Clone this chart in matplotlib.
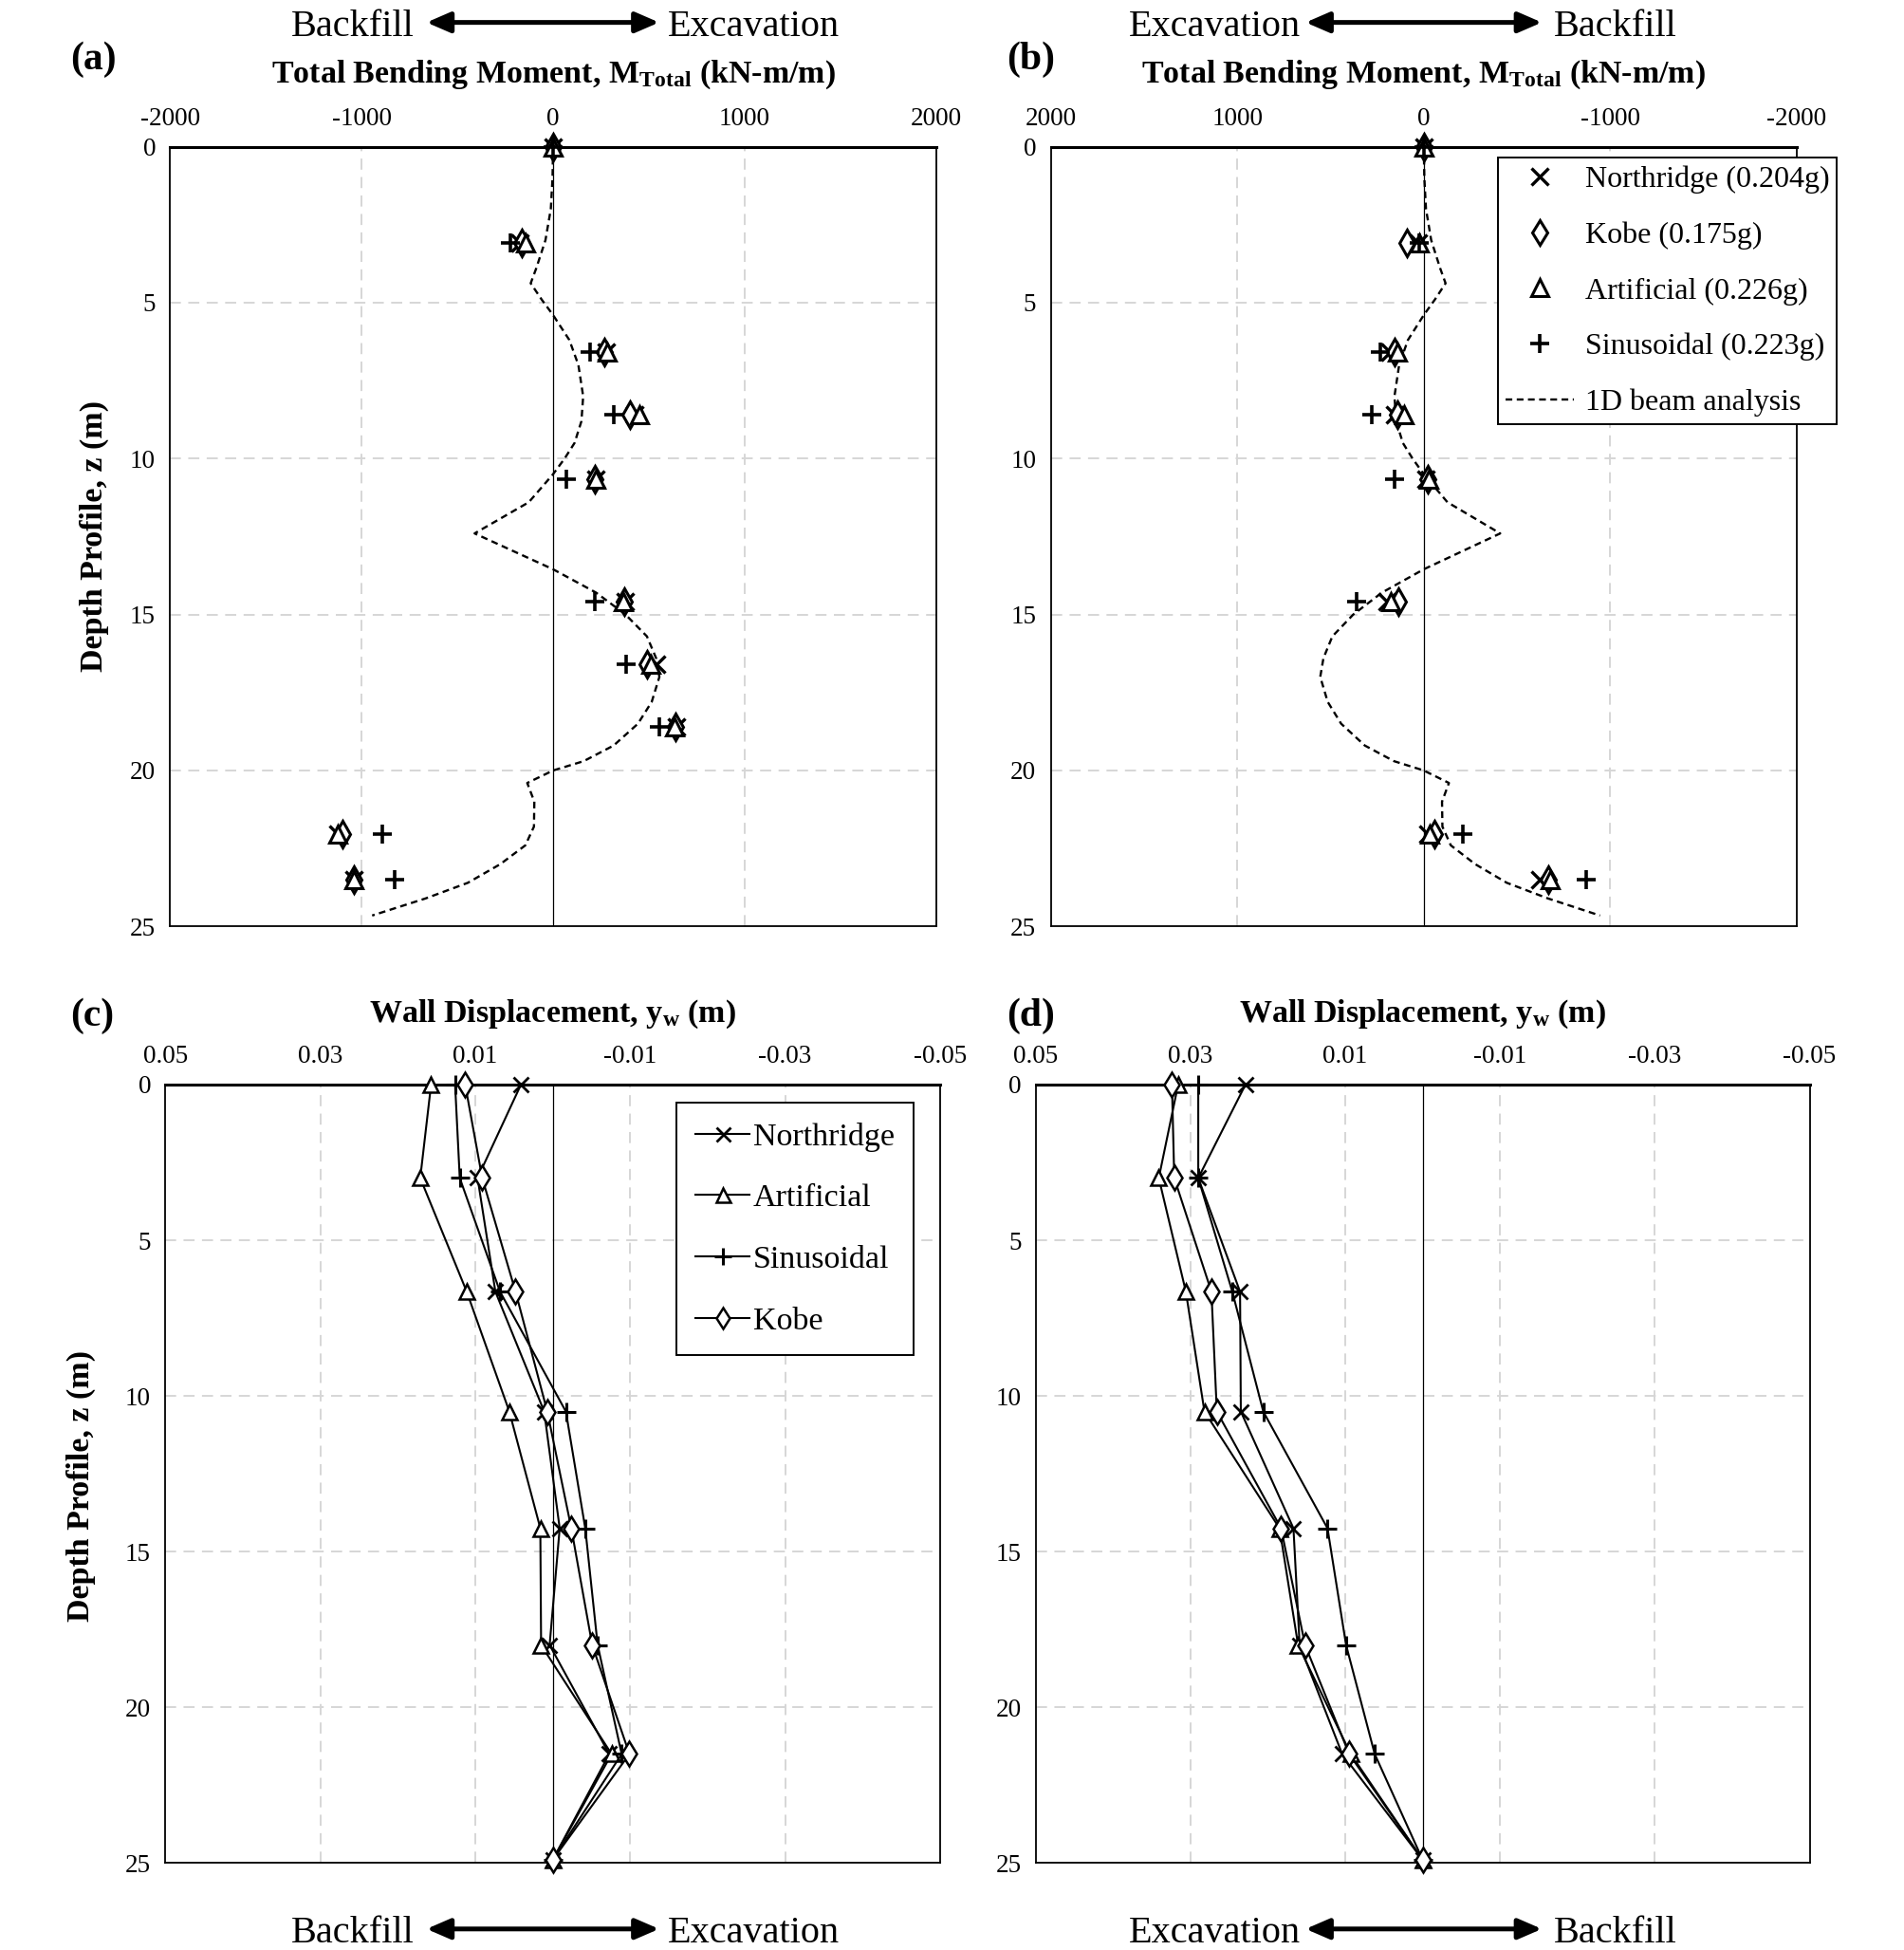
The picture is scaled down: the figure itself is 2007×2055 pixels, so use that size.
"""Bending moment and wall displacement profiles, panels (a)-(d)."""

import matplotlib

matplotlib.use("Agg")
import matplotlib.pyplot as plt
from matplotlib.lines import Line2D
from matplotlib.patches import FancyArrowPatch

plt.rcParams["font.family"] = ["Liberation Serif", "DejaVu Serif"]
plt.rcParams["mathtext.fontset"] = "custom"
plt.rcParams["mathtext.rm"] = "Liberation Serif"
plt.rcParams["mathtext.bf"] = "Liberation Serif:bold"
plt.rcParams["mathtext.it"] = "Liberation Serif:italic"

# ---- (a) total bending moment, kN-m/m
depth_a = [0.0, 3.1, 6.6, 8.6, 10.65, 14.6, 16.6, 18.6, 22.05, 23.5]
northridge_a = [0, -172, 276, 425, 225, 375, 540, 645, -1125, -1040]
kobe_a = [0, -162, 268, 400, 220, 370, 490, 640, -1100, -1040]
artificial_a = [0, -146, 284, 449, 225, 365, 510, 635, -1125, -1040]
sinusoidal_a = [0, -221, 193, 317, 70, 220, 380, 555, -890, -825]

# ---- (b) total bending moment, kN-m/m
depth_b = [0.0, 3.1, 6.6, 8.6, 10.65, 14.6, 22.05, 23.5]
northridge_b = [0, 30, 183, 157, -10, 195, -20, -620]
kobe_b = [0, 90, 157, 140, -20, 135, -55, -670]
artificial_b = [0, 22, 141, 107, -25, 175, -30, -680]
sinusoidal_b = [0, 22, 234, 279, 157, 360, -210, -870]

# ---- 1D beam analysis (same curve in both moment panels)
beam_depth = [0.0, 1.0, 2.0, 3.0, 3.9, 4.38, 4.9, 5.4, 6.2, 7.0, 8.0, 8.8, 9.5,
              10.0, 10.5, 11.4, 12.4, 13.55, 14.3, 15.0, 15.7, 16.4, 17.0, 17.8,
              18.5, 19.2, 19.7, 20.0, 20.4, 21.0, 21.8, 22.4, 23.0, 23.6, 24.1, 24.65]
beam_moment = [0, -3, -12, -40, -88, -117, -60, 0, 85, 132, 157, 148, 112,
               60, 0, -127, -410, 0, 225, 378, 490, 538, 555, 515,
               443, 316, 160, 0, -135, -98, -100, -145, -275, -445, -665, -945]

# ---- (c), (d) wall displacement, m
depth_disp = [0.0, 3.0, 6.65, 10.5, 14.25, 18.0, 21.5, 24.9]
northridge_c = [0.0041, 0.0097, 0.0074, 0.0011, -0.0009, 0.0004, -0.0073, 0.0]
artificial_c = [0.0157, 0.0171, 0.0111, 0.0056, 0.0016, 0.0015, -0.0076, 0.0]
sinusoidal_c = [0.0126, 0.0120, 0.0068, -0.0017, -0.0042, -0.0058, -0.0089, 0.0]
kobe_c = [0.0113, 0.0091, 0.0048, 0.0007, -0.0024, -0.0051, -0.0099, 0.0]

northridge_d = [0.0229, 0.0290, 0.0236, 0.0235, 0.0167, 0.0159, 0.0104, 0.0]
artificial_d = [0.0316, 0.0341, 0.0306, 0.0282, 0.0185, 0.0161, 0.0093, 0.0]
sinusoidal_d = [0.0290, 0.0290, 0.0246, 0.0206, 0.0123, 0.0099, 0.0062, 0.0]
kobe_d = [0.0324, 0.0321, 0.0273, 0.0266, 0.0183, 0.0152, 0.0095, 0.0]

moment_ticks = [-2000, -1000, 0, 1000, 2000]
moment_labels = ["-2000", "-1000", "0", "1000", "2000"]
disp_ticks = [0.05, 0.03, 0.01, -0.01, -0.03, -0.05]
disp_labels = ["0.05", "0.03", "0.01", "-0.01", "-0.03", "-0.05"]
depth_ticks = [0, 5, 10, 15, 20, 25]

GRID = "#d6d6d6"
TICK_FS = 19.5
TITLE_FS = 24.5

# marker styles: (marker, size, edge width, face)
MK = {
    "Northridge": ("x", 13, 2.4, "k"),
    "Kobe": ("d", 14, 2.2, "white"),
    "Artificial": ("^", 13, 2.2, "white"),
    "Sinusoidal": ("+", 15, 2.6, "k"),
}


def style_axes(ax, xlim, ticks, labels, grid_x):
    ax.set_xlim(*xlim)
    ax.set_ylim(25, 0)
    ax.xaxis.tick_top()
    ax.set_xticks(ticks)
    ax.set_xticklabels(labels)
    ax.set_yticks(depth_ticks)
    ax.tick_params(axis="x", length=0, labelsize=TICK_FS, pad=12)
    ax.tick_params(axis="y", length=0, labelsize=TICK_FS, pad=11)
    for v in grid_x:
        ax.axvline(v, color=GRID, lw=1.4, ls=(0, (6, 4)), zorder=0)
    for d in (5, 10, 15, 20):
        ax.axhline(d, color=GRID, lw=1.4, ls=(0, (6, 4)), zorder=0)
    ax.axvline(0, color="k", lw=0.9, zorder=1)
    for side in ("left", "right", "bottom"):
        ax.spines[side].set_linewidth(1.3)
    ax.spines["top"].set_linewidth(2.2)


def moment_panel(ax, depth, series, xlim):
    style_axes(ax, xlim, moment_ticks, moment_labels, [-1000, 1000])
    ax.plot(beam_moment, beam_depth, color="k", lw=1.7, ls=(0, (3, 2)), zorder=2)
    handles = []
    for name, vals in series:
        m, ms, mew, fc = MK[name]
        h, = ax.plot(vals, depth, ls="none", marker=m, ms=ms, mew=mew,
                     mec="k", mfc=fc, color="k", clip_on=False, zorder=3)
        handles.append(h)
    ax.text(0.5, 1.0925, r"Total Bending Moment, $\mathbf{M_{Total}}$ (kN-m/m)",
            transform=ax.transAxes, ha="center", va="center",
            fontsize=TITLE_FS, fontweight="bold")
    return handles


def disp_panel(ax, series):
    style_axes(ax, (0.05, -0.05), disp_ticks, disp_labels, [0.03, 0.01, -0.01, -0.03])
    handles = []
    for name, vals in series:
        m, ms, mew, fc = MK[name]
        h, = ax.plot(vals, depth_disp, color="k", lw=1.5, marker=m, ms=ms - 1,
                     mew=mew - 0.4, mec="k", mfc=fc, clip_on=False, zorder=3)
        handles.append(h)
    ax.text(0.5, 1.091, r"Wall Displacement, $\mathbf{y_w}$ (m)",
            transform=ax.transAxes, ha="center", va="center",
            fontsize=TITLE_FS, fontweight="bold")
    return handles


def direction(fig, y_arrow, y_text, left_word, right_word, x_left, x0, x1, x_right):
    fig.text(x_left, y_text, left_word, ha="right", va="baseline", fontsize=29)
    fig.text(x_right, y_text, right_word, ha="left", va="baseline", fontsize=29)
    arrow = FancyArrowPatch((x0, y_arrow), (x1, y_arrow), transform=fig.transFigure,
                            arrowstyle="<|-|>,head_length=15,head_width=6.5",
                            mutation_scale=1, lw=3.6, color="k",
                            shrinkA=0, shrinkB=0)
    fig.add_artist(arrow)


fig = plt.figure(figsize=(20.08, 20.55), dpi=100)
ax_a = fig.add_axes([0.0893, 0.5249, 0.4021, 0.3999])
ax_b = fig.add_axes([0.5516, 0.5249, 0.3916, 0.3999])
ax_c = fig.add_axes([0.0868, 0.0446, 0.4067, 0.3992])
ax_d = fig.add_axes([0.5437, 0.0446, 0.4063, 0.3992])

moment_panel(ax_a, depth_a, [("Northridge", northridge_a), ("Kobe", kobe_a),
                             ("Artificial", artificial_a), ("Sinusoidal", sinusoidal_a)],
             (-2000, 2000))
hb = moment_panel(ax_b, depth_b, [("Northridge", northridge_b), ("Kobe", kobe_b),
                                  ("Artificial", artificial_b), ("Sinusoidal", sinusoidal_b)],
                  (2000, -2000))

beam_handle = Line2D([], [], color="k", lw=1.7, ls=(0, (3, 2)))
leg_b = fig.legend(hb + [beam_handle],
                   ["Northridge (0.204g)", "Kobe (0.175g)", "Artificial (0.226g)",
                    "Sinusoidal (0.223g)", "1D beam analysis"],
                   loc="upper left", bbox_to_anchor=(0.7866, 0.919),
                   bbox_transform=fig.transFigure, borderaxespad=0,
                   fontsize=23, handlelength=2.25, handletextpad=0.35,
                   labelspacing=0.92, borderpad=0.25, fancybox=False,
                   edgecolor="k", framealpha=1, markerscale=0.95)
leg_b.get_frame().set_linewidth(1.4)

hc = disp_panel(ax_c, [("Northridge", northridge_c), ("Artificial", artificial_c),
                       ("Sinusoidal", sinusoidal_c), ("Kobe", kobe_c)])
disp_panel(ax_d, [("Northridge", northridge_d), ("Artificial", artificial_d),
                  ("Sinusoidal", sinusoidal_d), ("Kobe", kobe_d)])
leg_c = fig.legend(hc, ["Northridge", "Artificial", "Sinusoidal", "Kobe"],
                   loc="upper left", bbox_to_anchor=(0.3551, 0.4345),
                   bbox_transform=fig.transFigure, borderaxespad=0,
                   fontsize=24.5, handlelength=1.65, handletextpad=0.12,
                   labelspacing=1.0, borderpad=0.6, fancybox=False,
                   edgecolor="k", framealpha=1, markerscale=0.9)
leg_c.get_frame().set_linewidth(1.4)

# y labels and panel letters
fig.text(0.0496, 0.725, "Depth Profile, z (m)", rotation=90, ha="center",
         va="center", fontsize=24.5, fontweight="bold")
fig.text(0.0424, 0.238, "Depth Profile, z (m)", rotation=90, ha="center",
         va="center", fontsize=24.5, fontweight="bold")
for x, y, lab in [(0.049, 0.9694, "(a)"), (0.541, 0.9694, "(b)"),
                  (0.0483, 0.479, "(c)"), (0.541, 0.479, "(d)")]:
    fig.text(x, y, lab, ha="center", va="center", fontsize=30, fontweight="bold")

# direction arrows
direction(fig, 0.9885, 0.9815, "Backfill", "Excavation", 0.2174, 0.2239, 0.346, 0.3505)
direction(fig, 0.9885, 0.9815, "Excavation", "Backfill", 0.6828, 0.6854, 0.8094, 0.8159)
direction(fig, 0.0108, 0.0040, "Backfill", "Excavation", 0.2174, 0.2239, 0.346, 0.3505)
direction(fig, 0.0108, 0.0040, "Excavation", "Backfill", 0.6828, 0.6854, 0.8094, 0.8159)

fig.savefig("out.png", dpi=100, facecolor="white")
